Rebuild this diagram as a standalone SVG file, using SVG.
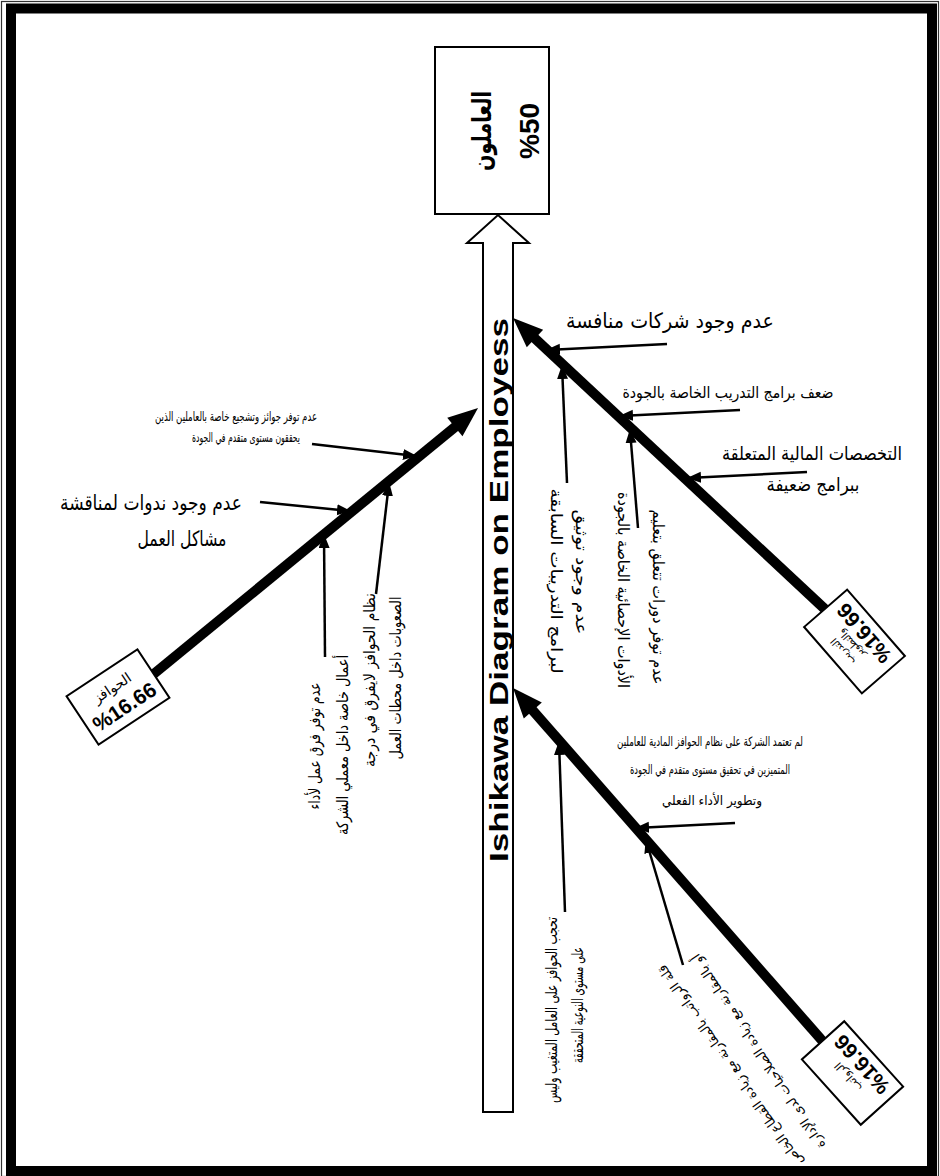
<svg xmlns="http://www.w3.org/2000/svg" width="940" height="1176" viewBox="0 0 940 1176">
<style>
.ar{font-family:"DejaVu Sans","Noto Sans",sans-serif;fill:#000}
.en{font-family:"Liberation Sans",Arial,sans-serif;font-weight:bold;fill:#000}
.box{fill:#fff;stroke:#000;stroke-width:2}
.bone{stroke:#000;stroke-width:10;fill:none}
.sa{stroke:#000;stroke-width:2.5;fill:none;marker-end:url(#ah)}
</style>
<defs>
<marker id="ah" markerUnits="userSpaceOnUse" markerWidth="16" markerHeight="12" refX="13" refY="5.5" orient="auto"><path d="M0,0 L14,5.5 L0,11 z" fill="#000"/></marker>
<marker id="big" markerUnits="userSpaceOnUse" markerWidth="34" markerHeight="26" refX="2" refY="12" orient="auto" overflow="visible"><path d="M0,0 L30,12 L0,24 z" fill="#000"/></marker>
</defs>
<rect width="940" height="1176" fill="#fff"/>
<g id="frame">
<rect x="1.5" y="1.5" width="937" height="1175" fill="none" stroke="#333" stroke-width="1.2"/>
<rect x="11" y="8.5" width="921" height="1162.5" fill="none" stroke="#000" stroke-width="10"/>
</g>
<g id="spine">
<polygon points="483,1112 483,243 467,243 498,215 529,243 513,243 513,1112" fill="#fff" stroke="#000" stroke-width="2"/>
<text class="en" font-size="25" textLength="544" lengthAdjust="spacingAndGlyphs" text-anchor="middle" transform="translate(508,590) rotate(-90)">Ishikawa Diagram on Employess</text>
</g>
<g id="effect">
<rect class="box" x="435" y="47" width="114" height="167"/>
<text class="ar" font-size="26" font-weight="bold" text-anchor="middle" textLength="80" lengthAdjust="spacingAndGlyphs" transform="translate(491,131) rotate(-90)">العاملون</text>
<text class="en" font-size="28" text-anchor="middle" transform="translate(539,131) rotate(-90)">%50</text>
</g>
<g id="connectors">
<line class="bone" x1="150" y1="677" x2="456.4" y2="425.8" marker-end="url(#big)"/>
<line class="bone" x1="828" y1="612" x2="533.5" y2="337.1" marker-end="url(#big)"/>
<line class="bone" x1="826" y1="1045" x2="531.5" y2="709" marker-end="url(#big)"/>
<line class="sa" x1="667" y1="344" x2="547" y2="350"/>
<line class="sa" x1="740" y1="410" x2="620" y2="416"/>
<line class="sa" x1="807" y1="472" x2="688" y2="478"/>
<line class="sa" x1="567" y1="483" x2="562" y2="366"/>
<line class="sa" x1="638" y1="528" x2="630" y2="430"/>
<line class="sa" x1="312" y1="444" x2="416" y2="456"/>
<line class="sa" x1="260" y1="502" x2="350" y2="511"/>
<line class="sa" x1="325" y1="657" x2="324" y2="535"/>
<line class="sa" x1="376" y1="594" x2="389" y2="483"/>
<line class="sa" x1="735" y1="823" x2="636" y2="828"/>
<line class="sa" x1="565" y1="912" x2="559" y2="742"/>
<line class="sa" x1="683" y1="965" x2="646" y2="840"/>
</g>
<g id="cat-incentives" transform="translate(118,697) rotate(-33.5)">
<rect class="box" x="-42.5" y="-29" width="85" height="58"/>
<text class="ar" font-size="14" text-anchor="middle" y="-6">الحوافز</text>
<text class="en" font-size="21" text-anchor="middle" y="19">%16.66</text>
</g>
<g id="cat-training" transform="translate(854.5,641.5) rotate(-131)">
<rect class="box" x="-44" y="-28.5" width="88" height="57"/>
<text class="ar" font-size="10" text-anchor="middle" y="-12">التدريب</text>
<text class="ar" font-size="10" text-anchor="middle" y="0">والتطوير</text>
<text class="en" font-size="21" text-anchor="middle" y="20">%16.66</text>
</g>
<g id="cat-salaries" transform="translate(852.5,1073) rotate(-132)">
<rect class="box" x="-44" y="-28.5" width="88" height="57"/>
<text class="ar" font-size="11" text-anchor="middle" y="-2">الرواتب</text>
<text class="en" font-size="21" text-anchor="middle" y="20">%16.66</text>
</g>
<g id="causes-training">
<text class="ar" font-size="21" text-anchor="middle" x="670" y="328" textLength="208" lengthAdjust="spacingAndGlyphs">عدم وجود شركات منافسة</text>
<text class="ar" font-size="16" text-anchor="middle" x="728" y="398" textLength="211" lengthAdjust="spacingAndGlyphs">ضعف برامج التدريب الخاصة بالجودة</text>
<text class="ar" font-size="19" text-anchor="middle" x="812" y="460" textLength="180" lengthAdjust="spacingAndGlyphs">التخصصات المالية المتعلقة</text>
<text class="ar" font-size="19" text-anchor="middle" x="813" y="491" textLength="93" lengthAdjust="spacingAndGlyphs">ببرامج ضعيفة</text>
<text class="ar" font-size="16" text-anchor="middle" transform="translate(576,572) rotate(90)" textLength="125" lengthAdjust="spacingAndGlyphs">عدم وجود توثيق</text>
<text class="ar" font-size="16" text-anchor="middle" transform="translate(551,581) rotate(90)" textLength="185" lengthAdjust="spacingAndGlyphs">لبرامج التدريبات السابقة</text>
<text class="ar" font-size="16" text-anchor="middle" transform="translate(653,597) rotate(90)" textLength="175" lengthAdjust="spacingAndGlyphs">عدم توفر دورات تتعلق بتعليم</text>
<text class="ar" font-size="16" text-anchor="middle" transform="translate(618,590) rotate(90)" textLength="196" lengthAdjust="spacingAndGlyphs">الأدوات الإحصائية الخاصة بالجودة</text>
</g>
<g id="causes-incentives">
<text class="ar" font-size="13" text-anchor="middle" x="236" y="421" textLength="162" lengthAdjust="spacingAndGlyphs">عدم توفر جوائز وتشجيع خاصة بالعاملين الذين</text>
<text class="ar" font-size="13" text-anchor="middle" x="246" y="442" textLength="108" lengthAdjust="spacingAndGlyphs">يحققون مستوى متقدم في الجودة</text>
<text class="ar" font-size="21" text-anchor="middle" x="151" y="510" textLength="182" lengthAdjust="spacingAndGlyphs">عدم وجود ندوات لمناقشة</text>
<text class="ar" font-size="21" text-anchor="middle" x="182" y="546" textLength="89" lengthAdjust="spacingAndGlyphs">مشاكل العمل</text>
<text class="ar" font-size="16" text-anchor="middle" transform="translate(320,746) rotate(-90)" textLength="127" lengthAdjust="spacingAndGlyphs">عدم توفر فرق عمل لأداء</text>
<text class="ar" font-size="16" text-anchor="middle" transform="translate(348,745) rotate(-90)" textLength="180" lengthAdjust="spacingAndGlyphs">أعمال خاصة داخل معملي الشركة</text>
<text class="ar" font-size="16" text-anchor="middle" transform="translate(375,680) rotate(-90)" textLength="174" lengthAdjust="spacingAndGlyphs">نظام الحوافز لايفرق في درجة</text>
<text class="ar" font-size="16" text-anchor="middle" transform="translate(401,678) rotate(-90)" textLength="163" lengthAdjust="spacingAndGlyphs">الصعوبات داخل محطات العمل</text>
</g>
<g id="causes-salaries">
<text class="ar" font-size="13" text-anchor="middle" x="710" y="746" textLength="186" lengthAdjust="spacingAndGlyphs">لم تعتمد الشركة على نظام الحوافز المادية للعاملين</text>
<text class="ar" font-size="13" text-anchor="middle" x="710" y="774" textLength="160" lengthAdjust="spacingAndGlyphs">المتميزين في تحقيق مستوى متقدم في الجودة</text>
<text class="ar" font-size="13" text-anchor="middle" x="712" y="805" textLength="100" lengthAdjust="spacingAndGlyphs">وتطوير الأداء الفعلي</text>
<text class="ar" font-size="16" text-anchor="middle" transform="translate(557,1010) rotate(-90)" textLength="186" lengthAdjust="spacingAndGlyphs">تحجب الحوافز على العامل المتغيب وليس</text>
<text class="ar" font-size="16" text-anchor="middle" transform="translate(583,1005) rotate(-90)" textLength="116" lengthAdjust="spacingAndGlyphs">على مستوى النوعية المتحققة</text>
<text class="ar" font-size="13" text-anchor="middle" transform="translate(734,1063) rotate(-125)">قلة الرواتب بالمقارنة مع زيادة القطاع الخاص</text>
<text class="ar" font-size="13" text-anchor="middle" transform="translate(762,1049) rotate(-123.5)">أو بالمقارنة مع زيادة الصلاحيات لدى الإدارة</text>
</g>
</svg>
